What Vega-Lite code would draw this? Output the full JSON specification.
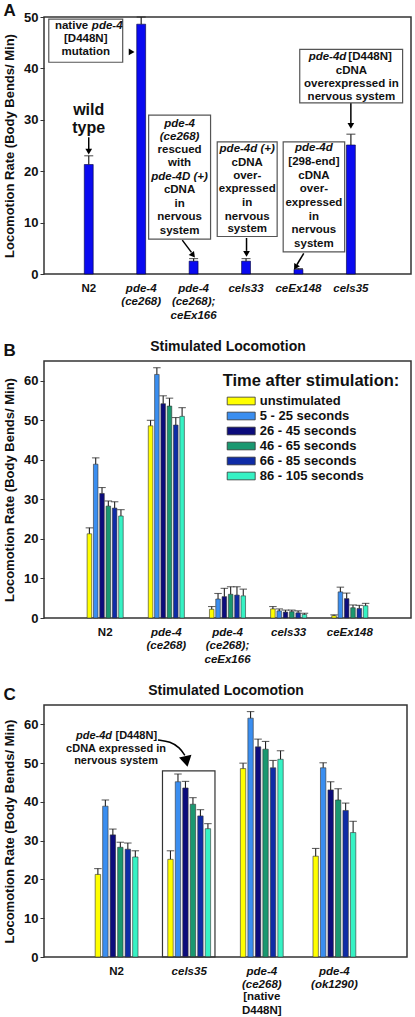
{
  "$schema": "https://vega.github.io/schema/vega-lite/v6.json",
  "padding": {"left": 2, "top": 0, "right": 0, "bottom": 0},
  "spacing": 16,
  "config": {
    "font": "Liberation Sans",
    "view": {"stroke": "#333333", "strokeWidth": 1.5},
    "axis": {"labelFont": "Liberation Sans", "labelFontWeight": "bold", "labelColor": "#111111", "titleColor": "#111111", "titleFontWeight": "bold", "titleFont": "Liberation Sans", "grid": false, "domain": false, "tickColor": "#333333"},
    "title": {"fontWeight": "bold", "color": "#111111", "font": "Liberation Sans"},
    "text": {"font": "Liberation Sans", "fontWeight": "bold", "color": "#111111"}
  },
  "datasets": {
    "barsA": [
      {"strain": "N2", "rate": 21.3, "hi": 23.0},
      {"strain": "pde-4 (ce268)", "rate": 48.6, "hi": 50.0},
      {"strain": "pde-4 (ce268); ceEx166", "rate": 2.5, "hi": 3.0},
      {"strain": "cels33", "rate": 2.5, "hi": 3.0},
      {"strain": "ceEx148", "rate": 0.9, "hi": 1.05},
      {"strain": "cels35", "rate": 25.1, "hi": 27.2}
    ],
    "aBoxes": [
      {"x": 0.238, "x2": 1.648, "y": 49.6, "y2": 41.2},
      {"x": 2.143, "x2": 3.324, "y": 30.9, "y2": 6.8},
      {"x": 3.451, "x2": 4.594, "y": 25.7, "y2": 7.3},
      {"x": 4.709, "x2": 5.882, "y": 25.7, "y2": 4.3},
      {"x": 5.025, "x2": 6.987, "y": 43.7, "y2": 33.3}
    ],
    "aTextN": [
      {"x": 0.943, "y": 45.7, "label": "[D448N]"},
      {"x": 0.943, "y": 43.1, "label": "mutation"},
      {"x": 2.733, "y": 24.1, "label": "rescued"},
      {"x": 2.733, "y": 21.5, "label": "with"},
      {"x": 2.733, "y": 16.3, "label": "cDNA"},
      {"x": 2.733, "y": 13.6, "label": "in"},
      {"x": 2.733, "y": 11.0, "label": "nervous"},
      {"x": 2.733, "y": 8.4, "label": "system"},
      {"x": 4.023, "y": 21.66, "label": "cDNA"},
      {"x": 4.023, "y": 19.07, "label": "over-"},
      {"x": 4.023, "y": 16.48, "label": "expressed"},
      {"x": 4.023, "y": 13.76, "label": "in"},
      {"x": 4.023, "y": 11.15, "label": "nervous"},
      {"x": 4.023, "y": 8.69, "label": "system"},
      {"x": 5.295, "y": 21.85, "label": "[298-end]"},
      {"x": 5.295, "y": 19.13, "label": "cDNA"},
      {"x": 5.295, "y": 16.54, "label": "over-"},
      {"x": 5.295, "y": 13.75, "label": "expressed"},
      {"x": 5.295, "y": 11.15, "label": "in"},
      {"x": 5.295, "y": 8.56, "label": "nervous"},
      {"x": 5.295, "y": 5.84, "label": "system"},
      {"x": 6.01, "y": 39.49, "label": "cDNA"},
      {"x": 6.01, "y": 36.96, "label": "overexpressed in"},
      {"x": 6.01, "y": 34.38, "label": "nervous system"}
    ],
    "aTextI": [
      {"x": 2.733, "y": 29.2, "label": "pde-4"},
      {"x": 2.733, "y": 26.6, "label": "(ce268)"},
      {"x": 2.733, "y": 18.9, "label": "pde-4D (+)"},
      {"x": 4.023, "y": 24.26, "label": "pde-4d (+)"},
      {"x": 5.295, "y": 24.46, "label": "pde-4d"}
    ],
    "aTextRN": [{"x": 0.99, "y": 48.2, "label": "native"}],
    "aTextLI": [{"x": 1.06, "y": 48.2, "label": "pde-4"}],
    "aTextRI": [{"x": 5.914, "y": 42.16, "label": "pde-4d"}],
    "aTextLN": [{"x": 5.952, "y": 42.16, "label": "[D448N]"}],
    "aBig": [{"x": 1.0, "y": 31.9, "label": "wild"}, {"x": 1.0, "y": 28.4, "label": "type"}],
    "aArrows": [
      {"x": 1.0, "y": 26.6, "x2": 1.0, "y2": 24.2},
      {"x": 2.785, "y": 6.6, "x2": 2.96, "y2": 4.2},
      {"x": 4.01, "y": 7.0, "x2": 4.01, "y2": 4.5},
      {"x": 5.101, "y": 4.0, "x2": 4.97, "y2": 1.8},
      {"x": 6.0, "y": 33.2, "x2": 6.0, "y2": 29.4}
    ],
    "aHeads": [
      {"x": 1.0, "y": 24.0, "angle": 180},
      {"x": 2.98, "y": 3.8, "angle": 142},
      {"x": 4.01, "y": 4.1, "angle": 180},
      {"x": 4.955, "y": 1.5, "angle": 211},
      {"x": 6.0, "y": 29.0, "angle": 180},
      {"x": 1.8, "y": 43.2, "angle": 90}
    ],
    "barsB": [
      {"grp": "N2", "t": "unstimulated", "rate": 21.3, "hi": 22.8},
      {"grp": "N2", "t": "5 - 25 seconds", "rate": 38.9, "hi": 40.5},
      {"grp": "N2", "t": "26 - 45 seconds", "rate": 31.5, "hi": 33.0},
      {"grp": "N2", "t": "46 - 65 seconds", "rate": 28.3, "hi": 29.6},
      {"grp": "N2", "t": "66 - 85 seconds", "rate": 27.8, "hi": 29.4},
      {"grp": "N2", "t": "86 - 105 seconds", "rate": 25.8, "hi": 27.4},
      {"grp": "pde-4 (ce268)", "t": "unstimulated", "rate": 48.6, "hi": 50.0},
      {"grp": "pde-4 (ce268)", "t": "5 - 25 seconds", "rate": 61.6, "hi": 63.3},
      {"grp": "pde-4 (ce268)", "t": "26 - 45 seconds", "rate": 54.2, "hi": 56.2},
      {"grp": "pde-4 (ce268)", "t": "46 - 65 seconds", "rate": 53.6, "hi": 55.6},
      {"grp": "pde-4 (ce268)", "t": "66 - 85 seconds", "rate": 48.8, "hi": 50.7},
      {"grp": "pde-4 (ce268)", "t": "86 - 105 seconds", "rate": 51.0, "hi": 53.2},
      {"grp": "pde-4 (ce268); ceEx166", "t": "unstimulated", "rate": 2.2, "hi": 2.9},
      {"grp": "pde-4 (ce268); ceEx166", "t": "5 - 25 seconds", "rate": 4.8, "hi": 6.2},
      {"grp": "pde-4 (ce268); ceEx166", "t": "26 - 45 seconds", "rate": 5.4, "hi": 7.5},
      {"grp": "pde-4 (ce268); ceEx166", "t": "46 - 65 seconds", "rate": 6.0, "hi": 7.9},
      {"grp": "pde-4 (ce268); ceEx166", "t": "66 - 85 seconds", "rate": 5.8, "hi": 7.9},
      {"grp": "pde-4 (ce268); ceEx166", "t": "86 - 105 seconds", "rate": 5.6, "hi": 7.3},
      {"grp": "cels33", "t": "unstimulated", "rate": 2.3, "hi": 2.9},
      {"grp": "cels33", "t": "5 - 25 seconds", "rate": 1.8, "hi": 2.3},
      {"grp": "cels33", "t": "26 - 45 seconds", "rate": 1.5, "hi": 2.0},
      {"grp": "cels33", "t": "46 - 65 seconds", "rate": 1.6, "hi": 2.0},
      {"grp": "cels33", "t": "66 - 85 seconds", "rate": 1.3, "hi": 1.8},
      {"grp": "cels33", "t": "86 - 105 seconds", "rate": 0.9, "hi": 1.2},
      {"grp": "ceEx148", "t": "unstimulated", "rate": 0.6, "hi": 0.8},
      {"grp": "ceEx148", "t": "5 - 25 seconds", "rate": 6.6, "hi": 7.8},
      {"grp": "ceEx148", "t": "26 - 45 seconds", "rate": 4.9, "hi": 6.3},
      {"grp": "ceEx148", "t": "46 - 65 seconds", "rate": 2.6, "hi": 3.3},
      {"grp": "ceEx148", "t": "66 - 85 seconds", "rate": 2.4, "hi": 3.2},
      {"grp": "ceEx148", "t": "86 - 105 seconds", "rate": 3.1, "hi": 3.7}
    ],
    "barsC": [
      {"grp": "N2", "t": "unstimulated", "rate": 21.3, "hi": 22.8},
      {"grp": "N2", "t": "5 - 25 seconds", "rate": 38.9, "hi": 40.5},
      {"grp": "N2", "t": "26 - 45 seconds", "rate": 31.5, "hi": 33.0},
      {"grp": "N2", "t": "46 - 65 seconds", "rate": 28.3, "hi": 29.6},
      {"grp": "N2", "t": "66 - 85 seconds", "rate": 27.8, "hi": 29.4},
      {"grp": "N2", "t": "86 - 105 seconds", "rate": 25.8, "hi": 27.4},
      {"grp": "cels35", "t": "unstimulated", "rate": 25.2, "hi": 27.4},
      {"grp": "cels35", "t": "5 - 25 seconds", "rate": 45.2, "hi": 47.2},
      {"grp": "cels35", "t": "26 - 45 seconds", "rate": 43.6, "hi": 45.3},
      {"grp": "cels35", "t": "46 - 65 seconds", "rate": 39.4, "hi": 41.1},
      {"grp": "cels35", "t": "66 - 85 seconds", "rate": 36.4, "hi": 38.0},
      {"grp": "cels35", "t": "86 - 105 seconds", "rate": 33.1, "hi": 34.4},
      {"grp": "pde-4 (ce268)", "t": "unstimulated", "rate": 48.6, "hi": 50.0},
      {"grp": "pde-4 (ce268)", "t": "5 - 25 seconds", "rate": 61.6, "hi": 63.3},
      {"grp": "pde-4 (ce268)", "t": "26 - 45 seconds", "rate": 54.2, "hi": 56.2},
      {"grp": "pde-4 (ce268)", "t": "46 - 65 seconds", "rate": 53.6, "hi": 55.6},
      {"grp": "pde-4 (ce268)", "t": "66 - 85 seconds", "rate": 48.8, "hi": 50.7},
      {"grp": "pde-4 (ce268)", "t": "86 - 105 seconds", "rate": 51.0, "hi": 53.2},
      {"grp": "pde-4 (ok1290)", "t": "unstimulated", "rate": 26.0, "hi": 28.0},
      {"grp": "pde-4 (ok1290)", "t": "5 - 25 seconds", "rate": 48.8, "hi": 50.1},
      {"grp": "pde-4 (ok1290)", "t": "26 - 45 seconds", "rate": 43.1, "hi": 45.2},
      {"grp": "pde-4 (ok1290)", "t": "46 - 65 seconds", "rate": 40.5, "hi": 43.4},
      {"grp": "pde-4 (ok1290)", "t": "66 - 85 seconds", "rate": 37.8, "hi": 39.7},
      {"grp": "pde-4 (ok1290)", "t": "86 - 105 seconds", "rate": 32.1, "hi": 35.0}
    ],
    "cBox": [{"x": 1.632, "x2": 2.355, "y": 48.0, "y2": 0}],
    "cTextRI": [{"x": 0.937, "y": 57.0, "label": "pde-4d"}],
    "cTextLN": [{"x": 0.985, "y": 57.0, "label": "[D448N]"}],
    "cTextN": [{"x": 0.992, "y": 53.65, "label": "cDNA expressed in"}, {"x": 0.992, "y": 50.57, "label": "nervous system"}],
    "cBelow": [{"x": 3, "y": -10.4, "label": "[native"}, {"x": 3, "y": -13.8, "label": "D448N]"}],
    "cCurve": [{"i": 1, "x": 1.57, "y": 56.0}, {"i": 2, "x": 1.74, "y": 55.6}, {"i": 3, "x": 1.87, "y": 54.0}, {"i": 4, "x": 1.94, "y": 52.0}],
    "cHead": [{"x": 1.956, "y": 50.9, "angle": 168}]
  },
  "vconcat": [
    {
      "width": 367,
      "height": 257,
      "title": {"text": "A", "anchor": "start", "frame": "bounds", "fontSize": 17, "offset": -8.5},
      "layer": [
        {
          "data": {"name": "barsA"},
          "layer": [
            {
              "mark": {"type": "bar", "fill": "#0a0af0", "stroke": "#00003a", "strokeWidth": 0.6},
              "encoding": {
                "x": {"field": "strain", "type": "nominal", "sort": null,
                  "scale": {"paddingInner": 0.83, "paddingOuter": 0.915, "align": 0.42},
                  "axis": {"title": null, "ticks": false, "labelAngle": 0, "labelFontSize": 11.5, "labelLineHeight": 13.5, "labelPadding": 8, "labelExpr": "split(datum.label, ' ')",
                    "labelFontStyle": {"condition": {"test": "datum.value === 'N2'", "value": "normal"}, "value": "italic"}}},
                "y": {"field": "rate", "type": "quantitative", "title": "Locomotion Rate (Body Bends/ Min)",
                  "scale": {"domain": [0, 50], "nice": false},
                  "axis": {"values": [0, 10, 20, 30, 40, 50], "tickSize": 4, "labelFontSize": 13, "labelPadding": 2, "titleFontSize": 13, "titlePadding": 7}}
              }
            },
            {
              "mark": {"type": "rule", "color": "#222222", "strokeWidth": 1.2},
              "encoding": {
                "x": {"field": "strain", "type": "nominal", "sort": null},
                "y": {"field": "rate", "type": "quantitative", "title": "Locomotion Rate (Body Bends/ Min)"},
                "y2": {"field": "hi"}
              }
            },
            {
              "mark": {"type": "tick", "orient": "horizontal", "size": 9, "thickness": 1.2, "color": "#222222"},
              "encoding": {
                "x": {"field": "strain", "type": "nominal", "sort": null},
                "y": {"field": "hi", "type": "quantitative", "title": "Locomotion Rate (Body Bends/ Min)"}
              }
            }
          ]
        },
        {
          "encoding": {
            "x": {"field": "x", "type": "quantitative", "scale": {"domain": [0.147, 7.147], "nice": false, "zero": false}, "axis": null},
            "y": {"field": "y", "type": "quantitative", "title": "Locomotion Rate (Body Bends/ Min)", "scale": {"domain": [0, 50], "nice": false}}
          },
          "layer": [
            {"data": {"name": "aBoxes"}, "mark": {"type": "rect", "fill": "white", "stroke": "#555555", "strokeWidth": 1.2},
              "encoding": {"x2": {"field": "x2"}, "y2": {"field": "y2"}}},
            {"data": {"name": "aTextN"}, "mark": {"type": "text", "fontSize": 11.5, "align": "center", "baseline": "middle"},
              "encoding": {"text": {"field": "label"}}},
            {"data": {"name": "aTextI"}, "mark": {"type": "text", "fontSize": 11.5, "fontStyle": "italic", "align": "center", "baseline": "middle"},
              "encoding": {"text": {"field": "label"}}},
            {"data": {"name": "aTextRN"}, "mark": {"type": "text", "fontSize": 11.5, "align": "right", "baseline": "middle"},
              "encoding": {"text": {"field": "label"}}},
            {"data": {"name": "aTextLI"}, "mark": {"type": "text", "fontSize": 11.5, "fontStyle": "italic", "align": "left", "baseline": "middle"},
              "encoding": {"text": {"field": "label"}}},
            {"data": {"name": "aTextRI"}, "mark": {"type": "text", "fontSize": 11.5, "fontStyle": "italic", "align": "right", "baseline": "middle"},
              "encoding": {"text": {"field": "label"}}},
            {"data": {"name": "aTextLN"}, "mark": {"type": "text", "fontSize": 11.5, "align": "left", "baseline": "middle"},
              "encoding": {"text": {"field": "label"}}},
            {"data": {"name": "aBig"}, "mark": {"type": "text", "fontSize": 16, "align": "center", "baseline": "middle"},
              "encoding": {"text": {"field": "label"}}},
            {"data": {"name": "aArrows"}, "mark": {"type": "rule", "color": "black", "strokeWidth": 1.5},
              "encoding": {"x2": {"field": "x2"}, "y2": {"field": "y2"}}},
            {"data": {"name": "aHeads"}, "mark": {"type": "point", "shape": "triangle", "filled": true, "color": "black", "size": 45, "opacity": 1},
              "encoding": {"angle": {"field": "angle", "type": "quantitative", "scale": null}}}
          ]
        }
      ],
      "resolve": {"scale": {"x": "independent"}}
    },
    {
      "width": 367,
      "height": 257,
      "title": {"text": "B", "anchor": "start", "frame": "bounds", "fontSize": 17, "offset": -21},
      "data": {"name": "barsB"},
      "layer": [
        {
          "mark": {"type": "bar", "stroke": "#333333", "strokeWidth": 0.6},
          "encoding": {
            "x": {"field": "grp", "type": "nominal", "sort": null,
              "scale": {"paddingInner": 0.41, "paddingOuter": 0.705},
              "axis": {"orient": "bottom", "title": null, "ticks": false, "labelAngle": 0, "labelFontSize": 11.5, "labelLineHeight": 13.5, "labelPadding": 8, "labelExpr": "split(datum.label, ' ')",
                "labelFontStyle": {"condition": {"test": "datum.value === 'N2'", "value": "normal"}, "value": "italic"}}},
            "xOffset": {"field": "t", "type": "nominal", "sort": null,
              "scale": {"domain": ["unstimulated", "5 - 25 seconds", "26 - 45 seconds", "46 - 65 seconds", "66 - 85 seconds", "86 - 105 seconds"], "paddingInner": 0.28}},
            "y": {"field": "rate", "type": "quantitative", "title": "Locomotion Rate (Body Bends/ Min)",
              "scale": {"domain": [0, 65], "nice": false},
              "axis": {"values": [0, 10, 20, 30, 40, 50, 60], "tickSize": 4, "labelFontSize": 13, "labelPadding": 2, "titleFontSize": 13, "titlePadding": 7}},
            "color": {"field": "t", "type": "nominal", "title": "Time after stimulation:",
              "scale": {"domain": ["unstimulated", "5 - 25 seconds", "26 - 45 seconds", "46 - 65 seconds", "66 - 85 seconds", "86 - 105 seconds"],
                "range": ["#ffff00", "#3a8ef0", "#0c0c7c", "#1a9870", "#0f2ca6", "#36f2c4"]},
              "legend": {"orient": "none", "legendX": 178.7, "legendY": 12, "padding": 0, "titleFontSize": 16.5, "titleFontWeight": "bold", "titleColor": "#111111", "titlePadding": 4, "titleLimit": 300,
                "labelFontSize": 13, "labelFontWeight": "bold", "labelColor": "#111111", "labelLimit": 300, "labelOffset": 22, "rowPadding": 0,
                "symbolType": "M-0.43,-0.55H3.57V0.55H-0.43Z", "symbolSize": 196, "symbolStrokeColor": "#333333", "symbolStrokeWidth": 0.8}}
          }
        },
        {
          "mark": {"type": "rule", "color": "#222222", "strokeWidth": 1.1},
          "encoding": {
            "x": {"field": "grp", "type": "nominal", "sort": null,
              "axis": {"orient": "top", "title": "Stimulated Locomotion", "labels": false, "ticks": false, "domain": false, "titleFontSize": 14, "titlePadding": 8}},
            "xOffset": {"field": "t", "type": "nominal", "sort": null},
            "y": {"field": "rate", "type": "quantitative", "title": "Locomotion Rate (Body Bends/ Min)"},
            "y2": {"field": "hi"}
          }
        },
        {
          "mark": {"type": "tick", "orient": "horizontal", "size": 7.5, "thickness": 1.1, "color": "#222222"},
          "encoding": {
            "x": {"field": "grp", "type": "nominal", "sort": null, "axis": null},
            "xOffset": {"field": "t", "type": "nominal", "sort": null},
            "y": {"field": "hi", "type": "quantitative", "title": "Locomotion Rate (Body Bends/ Min)"}
          }
        }
      ],
      "resolve": {"axis": {"x": "independent"}}
    },
    {
      "width": 363,
      "height": 252,
      "title": {"text": "C", "anchor": "start", "frame": "bounds", "fontSize": 17, "offset": -21},
      "layer": [
        {
          "data": {"name": "barsC"},
          "layer": [
            {
              "mark": {"type": "bar", "stroke": "#333333", "strokeWidth": 0.6},
              "encoding": {
                "x": {"field": "grp", "type": "nominal", "sort": null,
                  "scale": {"paddingInner": 0.41, "paddingOuter": 0.705},
                  "axis": {"orient": "bottom", "title": null, "ticks": false, "labelAngle": 0, "labelFontSize": 11.5, "labelLineHeight": 13.5, "labelPadding": 8, "labelExpr": "split(datum.label, ' ')",
                    "labelFontStyle": {"condition": {"test": "datum.value === 'N2'", "value": "normal"}, "value": "italic"}}},
                "xOffset": {"field": "t", "type": "nominal", "sort": null,
                  "scale": {"domain": ["unstimulated", "5 - 25 seconds", "26 - 45 seconds", "46 - 65 seconds", "66 - 85 seconds", "86 - 105 seconds"], "paddingInner": 0.28}},
                "y": {"field": "rate", "type": "quantitative", "title": "Locomotion Rate (Body Bends/ Min)",
                  "scale": {"domain": [0, 65], "nice": false},
                  "axis": {"values": [0, 10, 20, 30, 40, 50, 60], "tickSize": 4, "labelFontSize": 13, "labelPadding": 2, "titleFontSize": 13, "titlePadding": 7}},
                "color": {"field": "t", "type": "nominal",
                  "scale": {"domain": ["unstimulated", "5 - 25 seconds", "26 - 45 seconds", "46 - 65 seconds", "66 - 85 seconds", "86 - 105 seconds"],
                    "range": ["#ffff00", "#3a8ef0", "#0c0c7c", "#1a9870", "#0f2ca6", "#36f2c4"]},
                  "legend": null}
              }
            },
            {
              "mark": {"type": "rule", "color": "#222222", "strokeWidth": 1.1},
              "encoding": {
                "x": {"field": "grp", "type": "nominal", "sort": null,
                  "axis": {"orient": "top", "title": "Stimulated Locomotion", "labels": false, "ticks": false, "domain": false, "titleFontSize": 14, "titlePadding": 8}},
                "xOffset": {"field": "t", "type": "nominal", "sort": null},
                "y": {"field": "rate", "type": "quantitative", "title": "Locomotion Rate (Body Bends/ Min)"},
                "y2": {"field": "hi"}
              }
            },
            {
              "mark": {"type": "tick", "orient": "horizontal", "size": 7.5, "thickness": 1.1, "color": "#222222"},
              "encoding": {
                "x": {"field": "grp", "type": "nominal", "sort": null, "axis": null},
                "xOffset": {"field": "t", "type": "nominal", "sort": null},
                "y": {"field": "hi", "type": "quantitative", "title": "Locomotion Rate (Body Bends/ Min)"}
              }
            }
          ],
          "resolve": {"axis": {"x": "independent"}}
        },
        {
          "encoding": {
            "x": {"field": "x", "type": "quantitative", "scale": {"domain": [0, 5], "nice": false, "zero": false}, "axis": null},
            "y": {"field": "y", "type": "quantitative", "title": "Locomotion Rate (Body Bends/ Min)", "scale": {"domain": [0, 65], "nice": false}}
          },
          "layer": [
            {"data": {"name": "cBox"}, "mark": {"type": "rect", "fill": null, "fillOpacity": 0, "stroke": "#333333", "strokeWidth": 1.2},
              "encoding": {"x2": {"field": "x2"}, "y2": {"field": "y2"}}},
            {"data": {"name": "cTextRI"}, "mark": {"type": "text", "fontSize": 11, "fontStyle": "italic", "align": "right", "baseline": "middle"},
              "encoding": {"text": {"field": "label"}}},
            {"data": {"name": "cTextLN"}, "mark": {"type": "text", "fontSize": 11, "align": "left", "baseline": "middle"},
              "encoding": {"text": {"field": "label"}}},
            {"data": {"name": "cTextN"}, "mark": {"type": "text", "fontSize": 11, "align": "center", "baseline": "middle"},
              "encoding": {"text": {"field": "label"}}},
            {"data": {"name": "cBelow"}, "mark": {"type": "text", "fontSize": 11.5, "align": "center", "baseline": "middle"},
              "encoding": {"text": {"field": "label"}}},
            {"data": {"name": "cCurve"}, "mark": {"type": "line", "interpolate": "basis", "color": "black", "strokeWidth": 1.5},
              "encoding": {"order": {"field": "i", "type": "quantitative"}}},
            {"data": {"name": "cHead"}, "mark": {"type": "point", "shape": "triangle", "filled": true, "color": "black", "size": 160, "opacity": 1},
              "encoding": {"angle": {"field": "angle", "type": "quantitative", "scale": null}}}
          ]
        }
      ],
      "resolve": {"scale": {"x": "independent"}}
    }
  ],
  "resolve": {"scale": {"x": "independent", "y": "independent", "color": "independent", "xOffset": "independent"}, "legend": {"color": "independent"}}
}
